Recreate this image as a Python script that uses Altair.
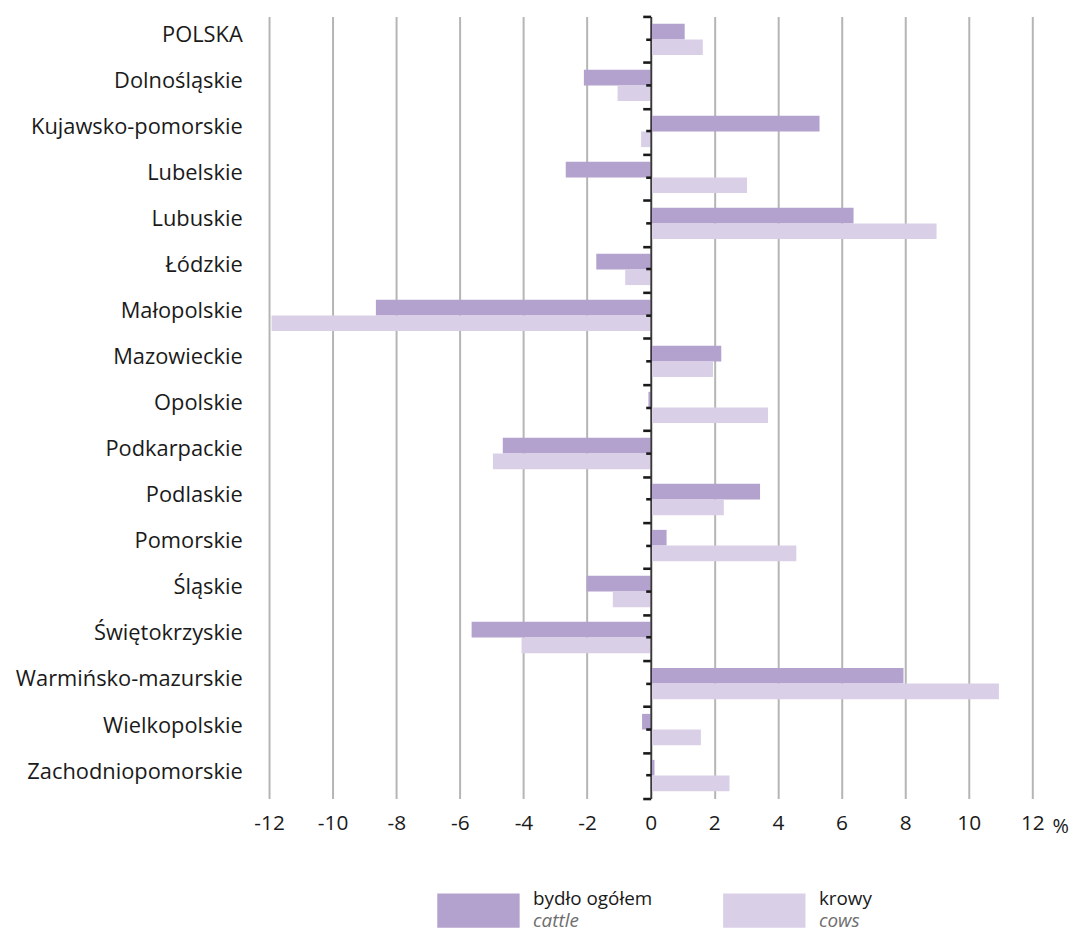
import altair as alt
import pandas as pd

categories = ["POLSKA", "Dolnośląskie", "Kujawsko-pomorskie", "Lubelskie", "Lubuskie",
              "Łódzkie", "Małopolskie", "Mazowieckie", "Opolskie", "Podkarpackie",
              "Podlaskie", "Pomorskie", "Śląskie", "Świętokrzyskie",
              "Warmińsko-mazurskie", "Wielkopolskie", "Zachodniopomorskie"]
cattle = [1.07, -2.10, 5.31, -2.67, 6.38, -1.71, -8.64, 2.22, -0.07, -4.65,
          3.44, 0.50, -2.01, -5.63, 7.95, -0.27, 0.12]
cows = [1.64, -1.04, -0.30, 3.03, 8.99, -0.80, -11.92, 1.96, 3.69, -4.96,
        2.30, 4.58, -1.19, -4.06, 10.95, 1.58, 2.48]
series_pl = ["bydło ogółem", "krowy"]
series_en = ["cattle", "cows"]
colors = ["#b3a2ce", "#d9d0e8"]
x_ticks = list(range(-12, 13, 2))

rows = []
for i, c in enumerate(categories):
    rows.append({"region": c, "series": series_pl[0], "value": cattle[i]})
    rows.append({"region": c, "series": series_pl[1], "value": cows[i]})
df = pd.DataFrame(rows)
cat_df = pd.DataFrame({"region": categories})
leg_df = pd.DataFrame({"series": series_pl, "en": series_en})

FONT = "Open Sans"
TXT = "#1a1a1a"
W, H = 769, 788
LEG_Y = H + 113

color_enc = alt.Color("series:N", scale=alt.Scale(domain=series_pl, range=colors), legend=None)

xenc = alt.X(
    "value:Q",
    scale=alt.Scale(domain=[-12, 12], nice=False, zero=False),
    axis=alt.Axis(values=x_ticks, grid=True, gridColor="#b5b5b5", gridWidth=2,
                  domain=False, ticks=False, labelFont=FONT, labelFontSize=21,
                  labelColor=TXT, labelPadding=14, labelFlush=False,
                  labelExpr="datum.value + ''",
                  title="%", titleFont=FONT, titleFontSize=20, titleFontWeight="normal",
                  titleColor=TXT, titleX=W + 28, titleY=34, titleAlign="center",
                  titleBaseline="alphabetic"),
)

bars = alt.Chart(df).mark_bar().encode(
    x=xenc,
    y=alt.Y("region:N", sort=categories,
            scale=alt.Scale(paddingInner=0.32, paddingOuter=0.16),
            axis=alt.Axis(title=None, domain=False, ticks=False, grid=False,
                          labelFont=FONT, labelFontSize=22, labelColor=TXT,
                          labelPadding=27, labelOffset=-4, labelLimit=500)),
    yOffset=alt.YOffset("series:N", sort=series_pl,
                        scale=alt.Scale(paddingInner=0, paddingOuter=0)),
    color=color_enc,
)

ticks_major = alt.Chart(cat_df).mark_point(opacity=0).encode(
    y=alt.Y("region:N", sort=categories,
            scale=alt.Scale(paddingInner=0, paddingOuter=0),
            axis=alt.Axis(orient="left", offset=-W / 2, title=None, labels=False,
                          domain=True, domainColor="#333333", domainWidth=1.6,
                          ticks=True, tickBand="extent", tickSize=8, tickWidth=2.6,
                          tickColor=TXT, grid=False, zindex=2)),
)

ticks_minor = alt.Chart(cat_df).mark_point(opacity=0).encode(
    y=alt.Y("region:N", sort=categories,
            scale=alt.Scale(paddingInner=0, paddingOuter=0),
            axis=alt.Axis(orient="left", offset=-W / 2, title=None, labels=False,
                          domain=False, ticks=True, tickBand="center", tickSize=5,
                          tickWidth=2.6, tickColor=TXT, grid=False, zindex=2)),
)

# legend built from the series lists, placed below the plot
lx = alt.X("series:N", sort=series_pl,
           scale=alt.Scale(domain=series_pl, range=[211, 499], padding=0), axis=None)
swatch = alt.Chart(leg_df).mark_point(
    shape="M-1,-0.416H1V0.416H-1Z", size=83 ** 2, filled=True, opacity=1, strokeWidth=0
).encode(x=lx, y=alt.value(LEG_Y), color=color_enc)
t1 = alt.Chart(leg_df).mark_text(align="left", baseline="alphabetic", dx=55, dy=-6,
                                 font=FONT, fontSize=19, color=TXT).encode(
    x=lx, y=alt.value(LEG_Y), text="series:N")
t2 = alt.Chart(leg_df).mark_text(align="left", baseline="alphabetic", dx=55, dy=16,
                                 font=FONT, fontSize=19, fontStyle="italic",
                                 color="#6e6e6e").encode(
    x=lx, y=alt.value(LEG_Y), text="en:N")

chart = alt.layer(bars, ticks_major, ticks_minor, swatch, t1, t2).resolve_scale(
    y="independent", x="independent"
).properties(
    width=W, height=H,
    padding={"left": 7, "top": 3, "right": 2, "bottom": 0},
).configure_view(stroke=None)

chart.save("out.html", embed_options={"renderer": "svg", "actions": False})
